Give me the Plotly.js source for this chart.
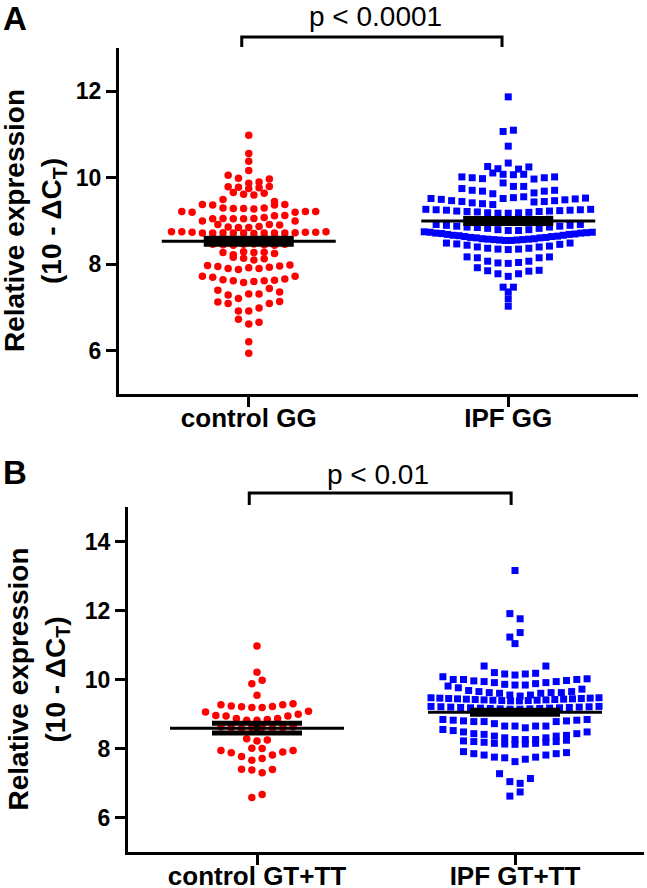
<!DOCTYPE html>
<html>
<head>
<meta charset="utf-8">
<script src="https://cdn.plot.ly/plotly-3.0.1.min.js"></script>
<style>
  body { margin: 0; background: #fff; }
  #chart { width: 647px; height: 888px; }
</style>
</head>
<body>
<div id="chart"></div>
<script>
// Values. One inner array per row of the swarm, left to right.
const ctrlGG = [
    [10.98],
    [10.56],
    [10.38],
    [10.17],
    [10.06, 9.99, 9.87, 9.90, 9.97],
    [9.79, 9.78, 9.75, 9.77, 9.80],
    [9.50, 9.66, 9.62, 9.60, 9.64, 9.45],
    [9.22, 9.20, 9.38, 9.37, 9.30, 9.29, 9.29, 9.28, 9.30, 9.37, 9.38, 9.20, 9.22, 9.22],
    [9.00, 9.05, 9.06, 9.05, 9.05, 9.06, 9.08, 9.12, 9.13, 9.00],
    [8.92, 8.86, 8.85, 8.85, 8.87, 8.92, 8.91],
    [8.75, 8.75, 8.74, 8.72, 8.72, 8.73, 8.72, 8.72, 8.71, 8.72, 8.72, 8.72, 8.73, 8.74, 8.74, 8.75],
    [8.61, 8.62, 8.60, 8.59, 8.60, 8.62, 8.61, 8.60],
    [8.46, 8.45, 8.44, 8.46, 8.47, 8.45, 8.44, 8.46],
    [8.27, 8.22, 8.29, 8.27, 8.28, 8.25],
    [8.16, 8.14, 8.10, 8.13],
    [7.97, 7.95, 7.90, 7.88, 7.92, 7.90, 7.93, 7.96, 7.98],
    [7.72, 7.70, 7.64, 7.62, 7.58, 7.60, 7.62, 7.63, 7.66, 7.72],
    [7.40, 7.29, 7.21, 7.31, 7.31, 7.44, 7.36],
    [7.13, 7.09, 6.92, 6.92, 6.99, 7.09, 7.14],
    [6.73, 6.62, 6.66],
    [6.21],
    [5.94]
];

const ipfGG = [
    [11.87],
    [11.07, 11.10],
    [10.73],
    [10.26, 10.21, 10.34, 10.20, 10.25],
    [10.02, 10.00, 9.98, 10.11, 10.08, 10.07, 10.08, 9.97, 10.00, 10.02],
    [9.75, 9.71, 9.69, 9.63, 9.88, 9.80, 9.80, 9.65, 9.69, 9.71],
    [9.52, 9.50, 9.47, 9.45, 9.42, 9.40, 9.38, 9.52, 9.54, 9.56, 9.44, 9.45, 9.47, 9.49, 9.51, 9.53],
    [9.27, 9.26, 9.25, 9.23, 9.22, 9.21, 9.19, 9.18, 9.18, 9.19, 9.20, 9.22, 9.23, 9.24, 9.25, 9.26, 9.27],
    [9.04, 9.03, 9.03, 9.02, 9.02, 9.02, 9.03, 9.03, 9.04],
    [8.92, 8.90, 8.88, 8.86, 8.85, 8.83, 8.80, 8.78, 8.78, 8.80, 8.83, 8.86, 8.88, 8.90, 8.92],
    [8.75, 8.74, 8.72, 8.71, 8.69, 8.67, 8.66, 8.64, 8.62, 8.61, 8.59, 8.58, 8.57, 8.56, 8.55,
     8.55, 8.56, 8.57, 8.58, 8.59, 8.61, 8.62, 8.64, 8.65, 8.67, 8.69, 8.70, 8.72, 8.73, 8.74],
    [8.49, 8.47, 8.44, 8.40, 8.37, 8.35, 8.34, 8.35, 8.37, 8.40, 8.42, 8.46, 8.49],
    [8.17, 8.15, 8.07, 8.03, 8.02, 8.04, 8.07, 8.15, 8.17],
    [7.92, 7.85, 7.78, 7.72, 7.78, 7.84, 7.86],
    [7.47, 7.47],
    [7.36],
    [7.20],
    [7.03]
];

const ctrlGT = [
    [10.97],
    [10.21],
    [9.88, 9.98],
    [9.54],
    [9.27, 9.23, 9.21, 9.19, 9.19, 9.22, 9.27, 9.30],
    [9.06, 8.96, 8.94, 8.87, 8.82, 8.82, 8.84, 8.87, 8.94, 8.99, 9.08],
    [8.62, 8.60, 8.58, 8.60, 8.61, 8.59, 8.60, 8.62],
    [8.28, 8.22, 8.25],
    [7.94, 7.88, 7.77, 8.01, 8.00, 7.81, 7.90, 7.94],
    [7.66, 7.71],
    [7.40, 7.38, 7.30, 7.39],
    [6.58, 6.67]
];

const ipfGT = [
    [13.16],
    [11.91, 11.76],
    [11.23, 11.36],
    [11.04],
    [10.39, 10.20, 10.16, 10.13, 10.16, 10.18, 10.39],
    [10.08, 10.00, 10.00, 9.96, 9.94, 9.91, 9.86, 9.84, 9.84, 9.88, 9.91, 9.94, 9.97, 10.00, 10.02],
    [9.81, 9.76, 9.68, 9.65, 9.62, 9.60, 9.55, 9.52, 9.55, 9.60, 9.62, 9.62, 9.65, 9.72],
    [9.47, 9.46, 9.45, 9.44, 9.43, 9.42, 9.41, 9.40, 9.39, 9.38, 9.38, 9.39, 9.40, 9.41, 9.42, 9.43, 9.44, 9.45, 9.46, 9.47],
    [9.22, 9.21, 9.20, 9.19, 9.18, 9.17, 9.16, 9.15, 9.14, 9.14, 9.15, 9.16, 9.17, 9.18, 9.19, 9.20, 9.21, 9.22],
    [8.84, 8.82, 8.80, 8.78, 8.78, 8.72, 8.65, 8.65, 8.60, 8.65, 8.65, 8.78, 8.80, 8.82, 8.84],
    [8.55, 8.52, 8.48, 8.43, 8.41, 8.36, 8.31, 8.26, 8.26, 8.26, 8.31, 8.36, 8.38, 8.43, 8.48],
    [8.22, 8.20, 8.18, 8.15, 8.13, 8.12, 8.13, 8.15, 8.18, 8.20, 8.24],
    [7.91, 7.85, 7.81, 7.75, 7.73, 7.62, 7.69, 7.75, 7.81, 7.85, 7.88],
    [7.27, 7.04, 6.99, 7.13],
    [6.62, 6.74]
];

const groupsA = ['control GG', 'IPF GG'];
const groupsB = ['control GT+TT', 'IPF GT+TT'];
const meansA = [8.53, 9.00];
const semA = [0.07, 0.055];
const meansB = [8.59, 9.05];
const semB = [0.14, 0.058];
const pTextA = 'p < 0.0001';
const pTextB = 'p < 0.01';

const W = 647, H = 888;
const FONT = 'Liberation Sans, Arial, Helvetica, sans-serif';

// panel boxes in pixels
const boxA = {l: 119, r: 638, t: 48, b: 394};
const boxB = {l: 128, r: 644, t: 507, b: 852};

function swarm(rows, center, pxPerUnit, maxPx) {
    const xs = [], ys = [];
    rows.forEach(row => {
        const n = row.length;
        let step = 10.3;
        if (n > 1 && step * (n - 1) > maxPx) step = maxPx / (n - 1);
        row.forEach((v, i) => {
            xs.push(center + (i - (n - 1) / 2) * step / pxPerUnit);
            ys.push(v);
        });
    });
    return {x: xs, y: ys};
}

function pointTrace(rows, center, box, xa, ya, red) {
    const ppu = (box.r - box.l) / 2;
    const s = swarm(rows, center, ppu, 168);
    return {
        x: s.x, y: s.y, xaxis: xa, yaxis: ya,
        type: 'scatter', mode: 'markers', hoverinfo: 'skip',
        marker: red
            ? {symbol: 'circle', size: 7.5, color: '#ff0000'}
            : {symbol: 'square', size: 7, color: '#0000ff'}
    };
}

function meanTraces(means, sems, box, xa, ya) {
    const half = 87 / ((box.r - box.l) / 2);
    const out = [];
    means.forEach((m, i) => {
        out.push({
            x: [i - half, i + half], y: [m, m], xaxis: xa, yaxis: ya,
            type: 'scatter', mode: 'lines', hoverinfo: 'skip',
            line: {color: '#000', width: 3}
        });
        out.push({
            x: [i], y: [m], xaxis: xa, yaxis: ya,
            type: 'scatter', mode: 'markers', hoverinfo: 'skip',
            marker: {size: 1, color: 'rgba(0,0,0,0)'},
            error_y: {type: 'data', array: [sems[i]], color: '#000', thickness: 5, width: 45}
        });
    });
    return out;
}

const data = [
    pointTrace(ctrlGG, 0, boxA, 'x', 'y', true),
    pointTrace(ipfGG, 1, boxA, 'x', 'y', false),
    pointTrace(ctrlGT, 0, boxB, 'x2', 'y2', true),
    pointTrace(ipfGT, 1, boxB, 'x2', 'y2', false),
    ...meanTraces(meansA, semA, boxA, 'x', 'y'),
    ...meanTraces(meansB, semB, boxB, 'x2', 'y2')
];

function xAxis(box, labels, anchor) {
    return {
        domain: [box.l / W, box.r / W], anchor: anchor,
        range: [-0.5, 1.5], tickvals: [0, 1], ticktext: labels,
        showline: true, linewidth: 3, linecolor: '#000',
        ticks: 'outside', ticklen: 10, tickwidth: 3, tickcolor: '#000',
        ticklabelstandoff: -11,
        showgrid: false, zeroline: false,
        tickfont: {family: FONT, size: 26, weight: 'bold', color: '#000'}
    };
}

function yAxis(box, range, ticks, anchor) {
    return {
        domain: [(H - box.b) / H, (H - box.t) / H], anchor: anchor,
        range: range, tickvals: ticks,
        showline: true, linewidth: 3, linecolor: '#000',
        ticks: 'outside', ticklen: 10, tickwidth: 3, tickcolor: '#000',
        showgrid: false, zeroline: false,
        tickfont: {family: FONT, size: 23, weight: 'bold', color: '#000'}
    };
}

const py = v => (H - v) / H;
const px = v => v / W;

function bracket(xref, x0, x1, top, bottom) {
    return {
        type: 'path', xref: xref, yref: 'paper',
        path: `M ${x0},${py(bottom)} L ${x0},${py(top)} L ${x1},${py(top)} L ${x1},${py(bottom)}`,
        line: {color: '#000', width: 3}
    };
}

function note(text, x, y, size, bold, angle) {
    return {
        text: text, xref: 'paper', yref: 'paper', x: px(x), y: py(y),
        xanchor: 'center', yanchor: 'middle', showarrow: false,
        textangle: angle || 0,
        font: {family: FONT, size: size, weight: bold ? 'bold' : 'normal', color: '#000'}
    };
}

const midA = (boxA.t + boxA.b) / 2;
const midB = (boxB.t + boxB.b) / 2;

const layout = {
    width: W, height: H,
    margin: {l: 0, r: 0, t: 0, b: 0},
    paper_bgcolor: '#fff', plot_bgcolor: '#fff',
    showlegend: false,
    xaxis: xAxis(boxA, groupsA, 'y'),
    yaxis: yAxis(boxA, [5, 13], [6, 8, 10, 12], 'x'),
    xaxis2: xAxis(boxB, groupsB, 'y2'),
    yaxis2: yAxis(boxB, [5, 15], [6, 8, 10, 12, 14], 'x2'),
    shapes: [
        bracket('x', -0.027, 0.976, 37, 47),
        bracket('x2', -0.03, 0.985, 493, 505)
    ],
    annotations: [
        note('A', 15, 19, 33, true),
        note('B', 15, 473, 33, true),
        note(pTextA, 375, 17, 28, false),
        note(pTextB, 378, 474, 28, false),
        note('Relative expression', 15, midA, 28, true, -90),
        note('(10 - ΔC<sub>T</sub>)', 54, midA, 28, true, -90),
        note('Relative expression', 18, midB, 28, true, -90),
        note('(10 - ΔC<sub>T</sub>)', 57, midB, 28, true, -90)
    ]
};

Plotly.newPlot('chart', data, layout, {displayModeBar: false, staticPlot: true});
</script>
</body>
</html>
